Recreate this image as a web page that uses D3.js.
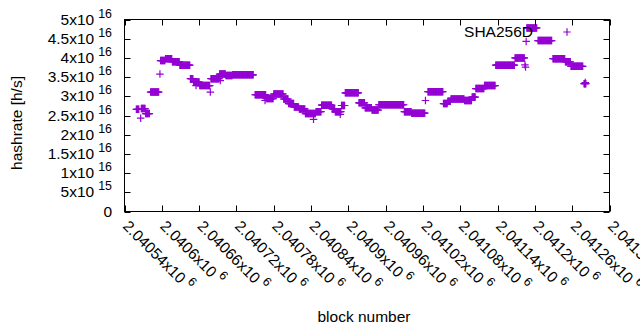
<!DOCTYPE html>
<html>
<head>
<meta charset="utf-8">
<script src="https://cdn.jsdelivr.net/npm/d3@7"></script>
<style>
  body { margin: 0; background: #fff; }
  text { font-family: "Liberation Sans", Arial, sans-serif; fill: #000; }
</style>
</head>
<body>
<svg id="chart" width="640" height="330"></svg>
<script>
// Data: runs of blocks sharing the same hashrate estimate (start block, end block, h/s)
const runStart = [2040559, 2040567, 2040574, 2040582, 2040598, 2040606, 2040617, 2040629, 2040646, 2040651,
  2040661, 2040679, 2040693, 2040703, 2040714, 2040750, 2040768, 2040780, 2040796, 2040804,
  2040813, 2040821, 2040831, 2040848, 2040857, 2040874, 2040879, 2040889, 2040895, 2040917,
  2040927, 2040938, 2040949, 2040990, 2041002, 2041028, 2041053, 2041060, 2041065, 2041087,
  2041099, 2041105, 2041119, 2041137, 2041168, 2041187, 2041205, 2041229, 2041249, 2041258,
  2041279];
const runEnd = [2040563, 2040573, 2040580, 2040595, 2040605, 2040616, 2040628, 2040645, 2040650, 2040660,
  2040677, 2040692, 2040702, 2040713, 2040747, 2040767, 2040779, 2040795, 2040803, 2040812,
  2040820, 2040830, 2040847, 2040856, 2040873, 2040878, 2040888, 2040894, 2040916, 2040926,
  2040937, 2040948, 2040989, 2041001, 2041023, 2041052, 2041059, 2041064, 2041086, 2041098,
  2041104, 2041118, 2041136, 2041167, 2041183, 2041203, 2041227, 2041248, 2041257, 2041277,
  2041282];
const runHashrate = [2.66e16, 2.68e16, 2.55e16, 3.11e16, 3.93e16, 3.98e16, 3.90e16, 3.81e16, 3.46e16, 3.37e16,
  3.28e16, 3.46e16, 3.58e16, 3.54e16, 3.56e16, 3.04e16, 2.94e16, 3.06e16, 2.93e16, 2.81e16,
  2.72e16, 2.67e16, 2.55e16, 2.60e16, 2.77e16, 2.67e16, 2.60e16, 2.76e16, 3.09e16, 2.83e16,
  2.70e16, 2.64e16, 2.78e16, 2.60e16, 2.56e16, 3.12e16, 2.81e16, 2.87e16, 2.93e16, 2.89e16,
  2.98e16, 3.20e16, 3.28e16, 3.81e16, 4.00e16, 4.78e16, 4.45e16, 3.98e16, 3.90e16, 3.78e16,
  3.33e16];

// Outlier blocks
const singleBlock = [2040566, 2040597, 2040655, 2040678, 2040694, 2040766, 2040844, 2040887, 2041024,
  2041184, 2041185, 2041186, 2041281];
const singleHashrate = [2.43e16, 3.58e16, 3.28e16, 3.11e16, 3.41e16, 2.89e16, 2.40e16, 2.53e16, 2.89e16,
  3.82e16, 3.76e16, 4.43e16, 3.36e16];

// Ticks
const xTicks = [2040540, 2040600, 2040660, 2040720, 2040780, 2040840, 2040900, 2040960, 2041020,
  2041080, 2041140, 2041200, 2041260, 2041320];
const xTickMantissa = ['2.04054x10', '2.0406x10', '2.04066x10', '2.04072x10', '2.04078x10', '2.04084x10',
  '2.0409x10', '2.04096x10', '2.04102x10', '2.04108x10', '2.04114x10', '2.0412x10', '2.04126x10', '2.04132x10'];
const xTickExponent = '6';
const yTicks = [0, 5e15, 1e16, 1.5e16, 2e16, 2.5e16, 3e16, 3.5e16, 4e16, 4.5e16, 5e16];
const yTickMantissa = ['0', '5x10', '1x10', '1.5x10', '2x10', '2.5x10', '3x10', '3.5x10', '4x10', '4.5x10', '5x10'];
const yTickExponent = ['', '15', '16', '16', '16', '16', '16', '16', '16', '16', '16'];

const seriesName = 'SHA256D';
const COLOR = '#9400d3';

// Layout
const LEFT = 124.5, RIGHT = 609.5, TOP = 19.5, BOTTOM = 211.5;
const TICK = 6;
const FONT = 15.5;

const svg = d3.select('#chart');

const x = d3.scaleLinear().domain([2040540, 2041320]).range([LEFT, RIGHT]);
const y = d3.scaleLinear().domain([0, 5e16]).range([BOTTOM, TOP]);

// Expand runs to one point per block
const points = [];
runStart.forEach((s, i) => {
  for (let b = s; b <= runEnd[i]; b++) points.push({ block: b, value: runHashrate[i] });
});
singleBlock.forEach((b, i) => points.push({ block: b, value: singleHashrate[i] }));

const plus = 'M-3.75,0H3.75M0,-3.75V3.75';

svg.append('g')
  .selectAll('path')
  .data(points)
  .enter()
  .append('path')
  .attr('transform', d => `translate(${x(d.block)},${y(d.value)})`)
  .attr('d', plus)
  .attr('fill', 'none')
  .attr('stroke', COLOR)
  .attr('stroke-width', 1.2);

// Ticks (mirrored, pointing inward)
const ticks = svg.append('g').attr('stroke', '#000').attr('stroke-width', 1);
xTicks.forEach(t => {
  const px = Math.round(x(t)) + 0.5;
  ticks.append('line').attr('x1', px).attr('x2', px).attr('y1', BOTTOM).attr('y2', BOTTOM - TICK);
  ticks.append('line').attr('x1', px).attr('x2', px).attr('y1', TOP).attr('y2', TOP + TICK);
});
yTicks.forEach(t => {
  const py = Math.round(y(t)) + 0.5;
  ticks.append('line').attr('x1', LEFT).attr('x2', LEFT + TICK).attr('y1', py).attr('y2', py);
  ticks.append('line').attr('x1', RIGHT).attr('x2', RIGHT - TICK).attr('y1', py).attr('y2', py);
});

// Border
svg.append('rect')
  .attr('x', LEFT).attr('y', TOP)
  .attr('width', RIGHT - LEFT).attr('height', BOTTOM - TOP)
  .attr('fill', 'none').attr('stroke', '#000').attr('stroke-width', 1);

// Y tick labels
yTicks.forEach((t, i) => {
  const txt = svg.append('text')
    .attr('x', 112)
    .attr('y', y(t) + 5)
    .attr('text-anchor', 'end')
    .style('font-size', FONT + 'px');
  txt.append('tspan').text(yTickMantissa[i]);
  if (yTickExponent[i]) {
    txt.append('tspan')
      .attr('dx', 4).attr('dy', -7)
      .style('font-size', (FONT * 0.8) + 'px')
      .text(yTickExponent[i]);
  }
});

// X tick labels, rotated
xTicks.forEach((t, i) => {
  const g = svg.append('g')
    .attr('transform', `translate(${x(t) + 1},${BOTTOM + 12}) rotate(45)`);
  const txt = g.append('text')
    .attr('x', 0).attr('y', 5)
    .style('font-size', FONT + 'px');
  txt.append('tspan').text(xTickMantissa[i]);
  txt.append('tspan')
    .attr('dx', 4).attr('dy', -7)
    .style('font-size', (FONT * 0.8) + 'px')
    .text(xTickExponent);
});

// Axis titles
svg.append('text')
  .attr('x', 364).attr('y', 322)
  .attr('text-anchor', 'middle')
  .style('font-size', FONT + 'px')
  .text('block number');

svg.append('text')
  .attr('transform', 'translate(22,123) rotate(-90)')
  .attr('text-anchor', 'middle')
  .style('font-size', FONT + 'px')
  .text('hashrate [h/s]');

// Key
svg.append('text')
  .attr('x', 533).attr('y', 37)
  .attr('text-anchor', 'end')
  .style('font-size', FONT + 'px')
  .text(seriesName);
svg.append('path')
  .attr('transform', 'translate(567,32)')
  .attr('d', plus)
  .attr('fill', 'none')
  .attr('stroke', COLOR)
  .attr('stroke-width', 1.2);
</script>
</body>
</html>
